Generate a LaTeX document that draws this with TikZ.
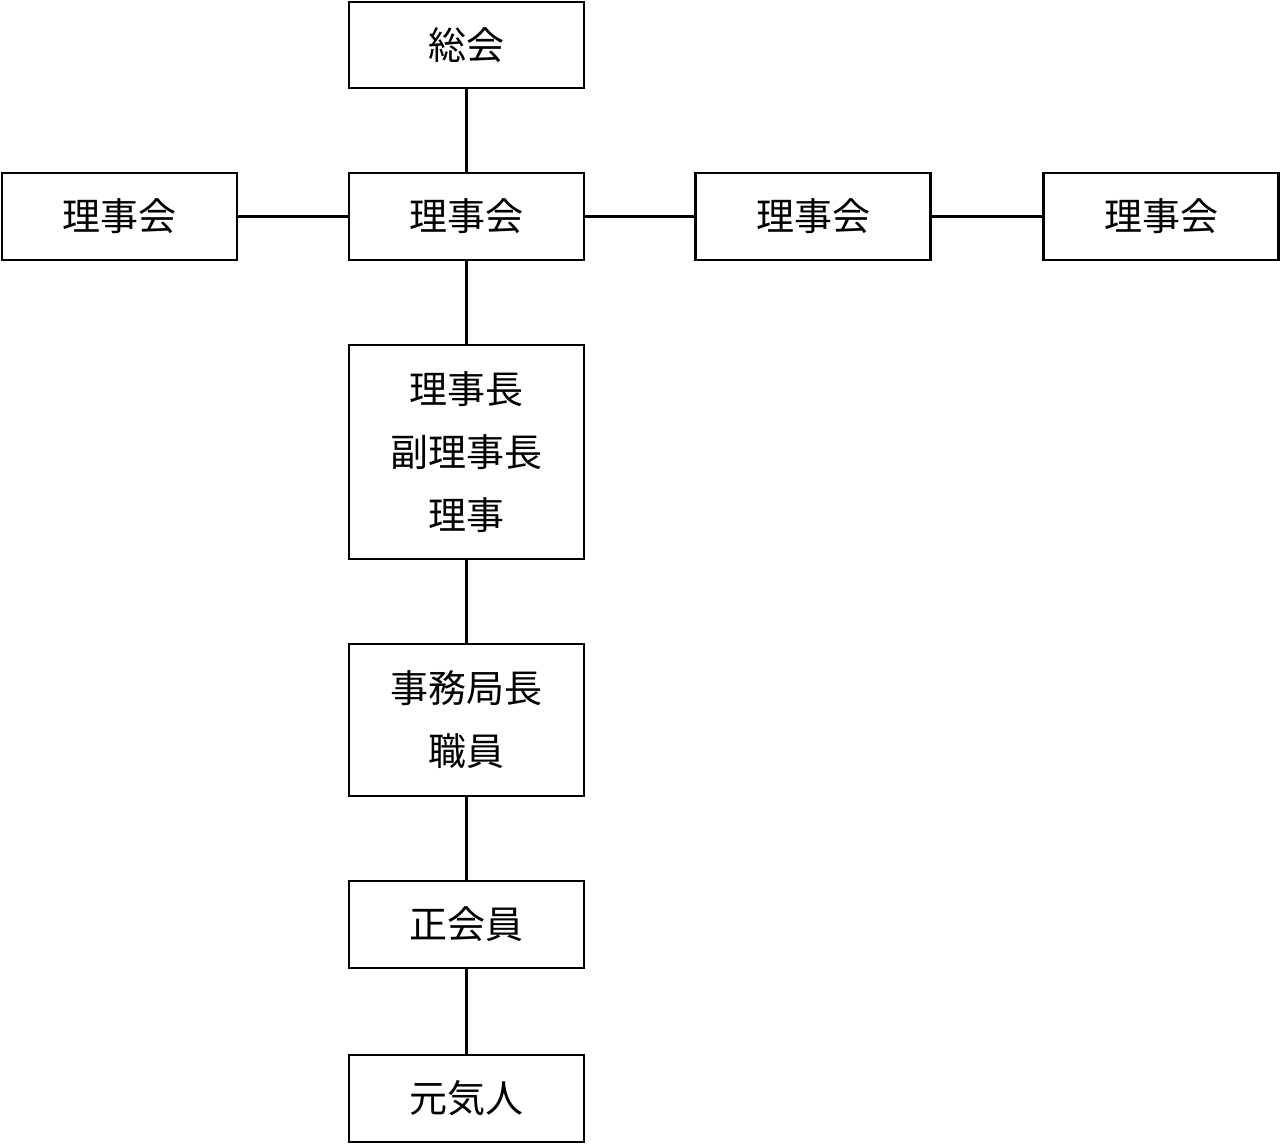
\documentclass[tikz,border=0pt]{standalone}
\usepackage{fontspec}
\newfontfamily\cjk{Noto Sans CJK JP}
\begin{document}
\begin{tikzpicture}[x=1pt,y=-1pt,
  orgbox/.style={draw=black,line width=2.4pt,fill=white,minimum width=235pt,inner sep=0pt,align=center,
    font=\cjk\fontsize{38}{63}\selectfont},
  link/.style={draw=black,line width=2.4pt}]
\useasboundingbox (0,0) rectangle (1280,1144);
\node[orgbox,minimum height=86pt] (sokai) at (466.5,45) {総会};
\node[orgbox,minimum height=87pt] (rc) at (466.5,216.5) {理事会};
\node[orgbox,minimum height=87pt] (rl) at (119.5,216.5) {理事会};
\node[orgbox,minimum height=87pt] (rr1) at (813,216.5) {理事会};
\node[orgbox,minimum height=87pt] (rr2) at (1161,216.5) {理事会};
\node[orgbox,minimum height=214pt] (chou) at (466.5,452) {理事長\\副理事長\\理事};
\node[orgbox,minimum height=152pt] (jimu) at (466.5,720) {事務局長\\職員};
\node[orgbox,minimum height=87pt] (sei) at (466.5,924.5) {正会員};
\node[orgbox,minimum height=87pt] (genki) at (466.5,1098.5) {元気人};
\draw[link] (sokai) -- (rc);
\draw[link] (rl) -- (rc);
\draw[link] (rc) -- (rr1);
\draw[link] (rr1) -- (rr2);
\draw[link] (rc) -- (chou);
\draw[link] (chou) -- (jimu);
\draw[link] (jimu) -- (sei);
\draw[link] (sei) -- (genki);
\end{tikzpicture}
\end{document}
